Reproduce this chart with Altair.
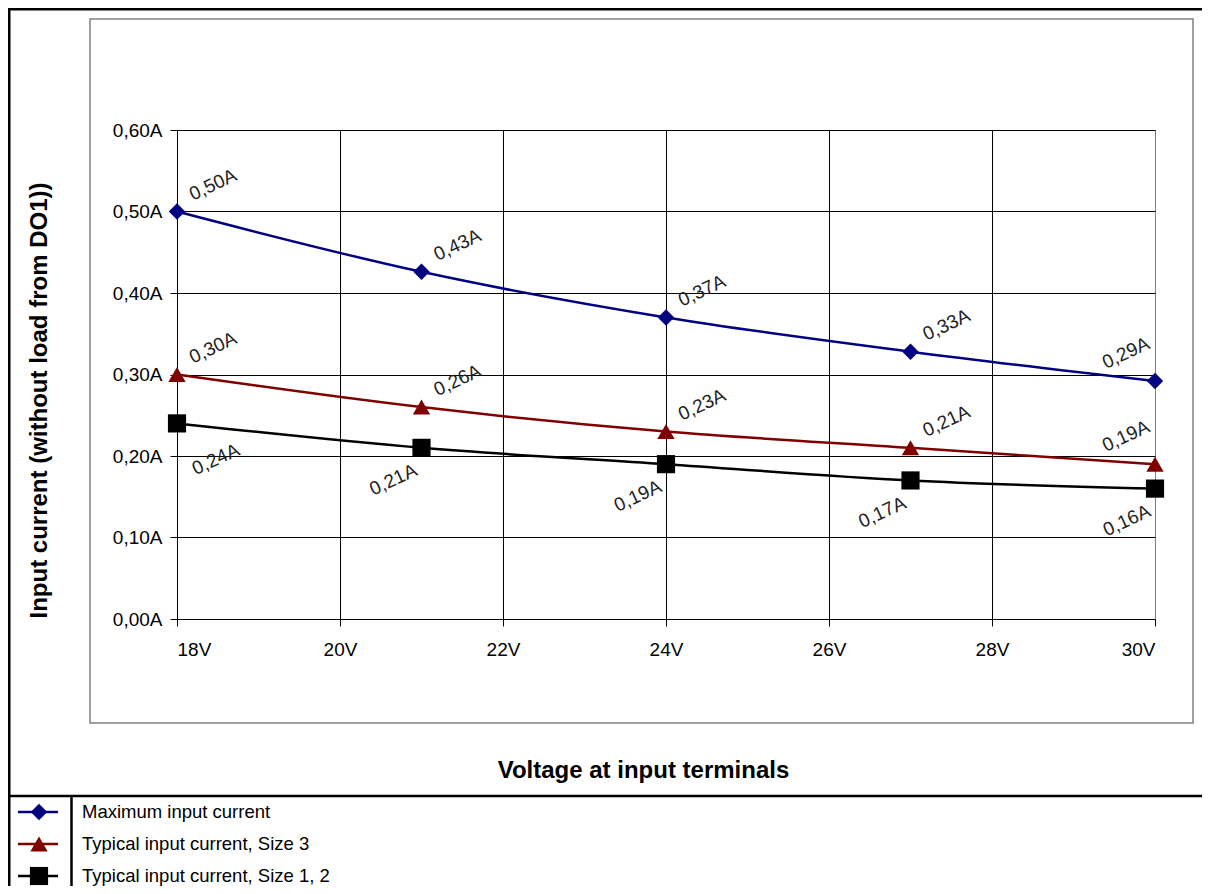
import altair as alt
import pandas as pd

# ---- data ----
voltage = [18, 21, 24, 27, 30]
series_names = [
    "Maximum input current",
    "Typical input current, Size 3",
    "Typical input current, Size 1, 2",
]
max_current = [0.50, 0.426, 0.37, 0.328, 0.292]
size3_current = [0.30, 0.26, 0.23, 0.21, 0.19]
size12_current = [0.24, 0.21, 0.19, 0.17, 0.16]

x_ticks = [18, 20, 22, 24, 26, 28, 30]
y_ticks = [0.0, 0.1, 0.2, 0.3, 0.4, 0.5, 0.6]

colors = ["#000080", "#800000", "#000000"]
shapes = ["diamond", "triangle-up", "square"]

FONT = "Liberation Sans, Arial"

rows = []
for name, vals in zip(series_names, [max_current, size3_current, size12_current]):
    for v, i in zip(voltage, vals):
        rows.append({"V": v, "I": i, "series": name,
                     "label": f"{i:.2f}".replace(".", ",") + "A"})
df = pd.DataFrame(rows)
legend_df = pd.DataFrame({"series": series_names})
one = pd.DataFrame({"k": [0]})

color = alt.Color("series:N", scale=alt.Scale(domain=series_names, range=colors), legend=None)
shape = alt.Shape("series:N", scale=alt.Scale(domain=series_names, range=shapes), legend=None)

x = alt.X("V:Q", scale=alt.Scale(domain=[18, 30], nice=False),
          axis=alt.Axis(values=x_ticks, labelExpr="datum.value + 'V'",
                        title="Voltage at input terminals",
                        titleX=466, titleY=151, titleAlign="center", titleBaseline="middle",
                        titleFontSize=24, titleFontWeight="bold", titleFont=FONT, titleColor="black",
                        labelFontSize=19, labelFont=FONT, labelColor="black", labelPadding=14,
                        tickSize=7, tickColor="black", domainColor="black",
                        gridColor={"condition": {"test": "datum.value === 30", "value": "#808080"},
                                   "value": "black"},
                        gridOpacity=1, gridWidth=1))
y = alt.Y("I:Q", scale=alt.Scale(domain=[0, 0.6], nice=False),
          axis=alt.Axis(values=y_ticks,
                        labelExpr="replace(format(datum.value, '.2f'), '.', ',') + 'A'",
                        title="Input current (without load from DO1))",
                        titleX=-138, titleY=270, titleAngle=270, titleAlign="center",
                        titleBaseline="middle",
                        titleFontSize=24, titleFontWeight="bold", titleFont=FONT, titleColor="black",
                        labelFontSize=19, labelFont=FONT, labelColor="black", labelPadding=8,
                        tickSize=7, tickColor="black", domainColor="black",
                        gridColor="black", gridOpacity=1, gridWidth=1))

base = alt.Chart(df)

frame_outer = alt.Chart(one).mark_rect(fillOpacity=0, stroke="black", strokeWidth=2.5).encode(
    x=alt.value(-167.75), x2=alt.value(1100), y=alt.value(-120.75), y2=alt.value(800))
frame_sep = alt.Chart(one).mark_rule(color="black", strokeWidth=2.5).encode(
    x=alt.value(-167.75), x2=alt.value(1100), y=alt.value(666))
frame_leg = alt.Chart(one).mark_rule(color="black", strokeWidth=2.5).encode(
    x=alt.value(-105.5), y=alt.value(666), y2=alt.value(800))
frame_inner = alt.Chart(one).mark_rect(fillOpacity=0, stroke="#808080", strokeWidth=1.5).encode(
    x=alt.value(-87), x2=alt.value(1016), y=alt.value(-111), y2=alt.value(593))

lines = base.mark_line(interpolate="monotone", strokeWidth=2.5).encode(x=x, y=y, color=color)
points = base.mark_point(filled=True, opacity=1, strokeWidth=0).encode(
    x=x, y=y, color=color, shape=shape,
    size=alt.Size("series:N", scale=alt.Scale(domain=series_names, range=[270, 330, 240]), legend=None))

S12 = series_names[2]
lab_style = dict(fontSize=19, font=FONT, color="#222222", angle=335, align="center", baseline="middle")
labA = base.transform_filter(f"datum.series !== '{S12}' && datum.V < 30").mark_text(
    dx=44, dy=-9, **lab_style).encode(x=x, y=y, text="label:N")
labB = base.transform_filter(f"datum.series !== '{S12}' && datum.V === 30").mark_text(
    dx=-14.5, dy=-37.7, **lab_style).encode(x=x, y=y, text="label:N")
labC = base.transform_filter(f"datum.series === '{S12}' && datum.V > 18").mark_text(
    dx=-39, dy=17, **lab_style).encode(x=x, y=y, text="label:N")
labD = base.transform_filter(f"datum.series === '{S12}' && datum.V === 18").mark_text(
    dx=20, dy=49, **lab_style).encode(x=x, y=y, text="label:N")

main = alt.layer(frame_outer, frame_sep, frame_leg, frame_inner, lines, points, labA, labB, labC, labD)

ly = alt.Y("series:N", scale=alt.Scale(type="point", domain=series_names, range=[682, 746], padding=0),
           axis=None)
leg_base = alt.Chart(legend_df)
leg_line = leg_base.mark_rule(strokeWidth=2.5).encode(
    x=alt.value(-159), x2=alt.value(-119), y=ly, color=color)
leg_pt = leg_base.mark_point(filled=True, opacity=1, strokeWidth=0).encode(
    x=alt.value(-138), y=ly, color=color, shape=shape,
    size=alt.Size("series:N", scale=alt.Scale(domain=series_names, range=[90, 170, 100]), legend=None))
leg_txt = leg_base.mark_text(align="left", baseline="middle", fontSize=18.5, font=FONT, color="black").encode(
    x=alt.value(-95), y=ly, text="series:N")
legend = alt.layer(leg_line, leg_pt, leg_txt)

chart = alt.layer(main, legend).resolve_scale(y="independent").properties(
    width=978, height=489,
    padding={"left": 169, "top": 122, "right": 47, "bottom": 267},
    autosize=alt.AutoSizeParams(type="none"),
    background="white",
).configure_view(stroke="#808080", strokeWidth=1)

chart.save("out.html", embed_options={"renderer": "svg", "actions": False})
